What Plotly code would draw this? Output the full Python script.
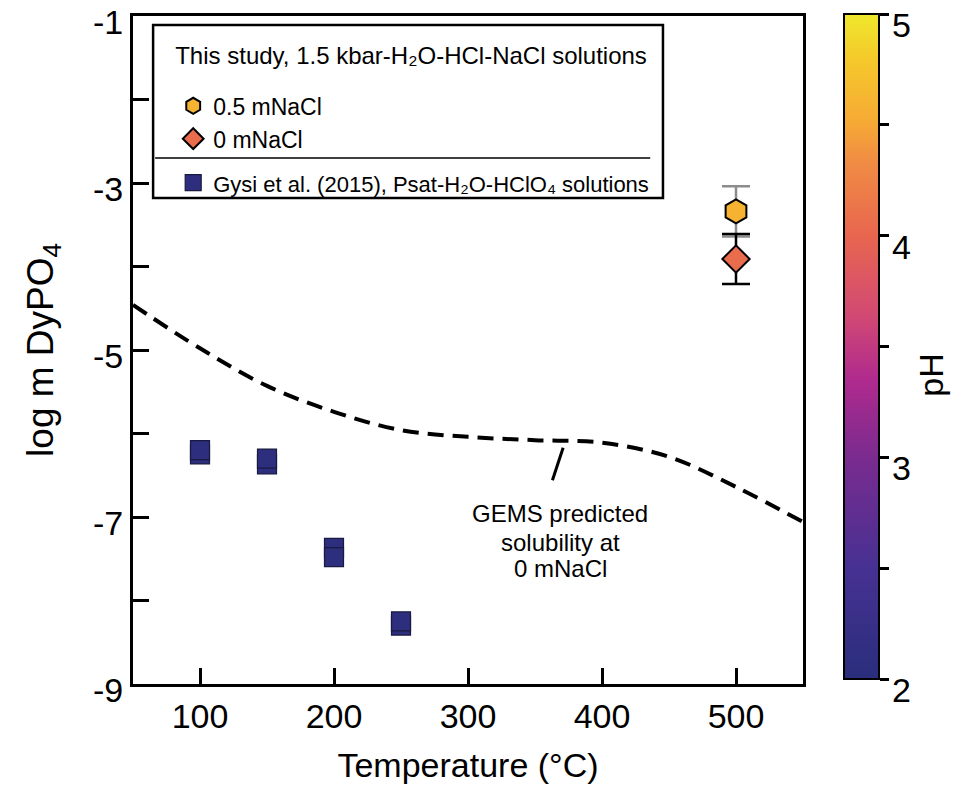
import plotly.graph_objects as go
from plotly.colors import sample_colorscale

# ---------------- data ----------------
# This study, 1.5 kbar H2O-HCl-NaCl
t_05nacl = [500]
logm_05nacl = [-3.34]
err_05nacl = [0.30]
ph_05nacl = [4.6]

t_0nacl = [500]
logm_0nacl = [-3.91]
err_0nacl = [0.30]
ph_0nacl = [4.05]

# Gysi et al. (2015), Psat H2O-HClO4 (replicates)
t_gysi = [100, 100, 150, 150, 200, 200, 250, 250]
logm_gysi = [-6.25, -6.20, -6.37, -6.30, -7.37, -7.48, -8.30, -8.25]
ph_gysi = [2.05, 2.05, 2.05, 2.05, 2.05, 2.05, 2.05, 2.05]

# GEMS predicted solubility at 0 mNaCl
t_gems = [50, 100, 150, 200, 250, 300, 350, 400, 450, 500, 550]
logm_gems = [-4.46, -4.98, -5.43, -5.74, -5.96, -6.04, -6.08, -6.11, -6.28, -6.64, -7.06]

x_ticks = [100, 200, 300, 400, 500]
y_ticks = [-9, -8, -7, -6, -5, -4, -3, -2, -1]
y_label_vals = [-9, -7, -5, -3, -1]
y_label_text = ["-9", "-7", "-5", "-3", "-1"]
cb_ticks = [2, 2.5, 3, 3.5, 4, 4.5, 5]
cb_label_vals = [2, 3, 4, 5]
cb_label_text = ["2", "3", "4", "5"]

PH_MIN, PH_MAX = 2, 5
ph_colorscale = [
    [0.0, "#2a2e7c"],
    [0.167, "#463192"],
    [0.333, "#7a2b8f"],
    [0.45, "#b02a8e"],
    [0.55, "#d24a72"],
    [0.667, "#e8664f"],
    [0.78, "#f08d43"],
    [0.833, "#f6a836"],
    [0.93, "#f5c82b"],
    [1.0, "#efe82c"],
]


def ph_colors(vals):
    return sample_colorscale(ph_colorscale, [(v - PH_MIN) / (PH_MAX - PH_MIN) for v in vals])


FONT = "Liberation Sans, Arial, sans-serif"

fig = go.Figure()

fig.add_trace(go.Scatter(
    x=t_gems, y=logm_gems, mode="lines", line_shape="spline",
    line=dict(color="black", width=4, dash="16px,9px"),
    showlegend=False, hoverinfo="skip",
))

fig.add_trace(go.Scatter(
    x=t_05nacl, y=logm_05nacl, mode="markers",
    name="<span style='font-size:23px'>0.5 mNaCl</span>",
    legendgroup="study",
    marker=dict(symbol="hexagon", size=24, color=ph_colors(ph_05nacl),
                line=dict(color="black", width=2)),
    error_y=dict(type="data", array=err_05nacl, color="#8c8c8c", thickness=2.5, width=14),
))

fig.add_trace(go.Scatter(
    x=t_0nacl, y=logm_0nacl, mode="markers",
    name="<span style='font-size:23px'>0 mNaCl</span>",
    legendgroup="study",
    marker=dict(symbol="diamond", size=21, color=ph_colors(ph_0nacl),
                line=dict(color="black", width=2)),
    error_y=dict(type="data", array=err_0nacl, color="black", thickness=2.5, width=14),
))

fig.add_trace(go.Scatter(
    x=t_gysi, y=logm_gysi, mode="markers",
    name="<span style='font-size:22px'>Gysi et al. (2015), Psat-H₂O-HClO₄ solutions</span>",
    legendgroup="gysi",
    marker=dict(symbol="square", size=19, color=ph_colors(ph_gysi),
                line=dict(color="#1a1a40", width=1.2)),
))

# pH colour scale (drives the colour bar only)
fig.add_trace(go.Scatter(
    x=t_gysi, y=logm_gysi, mode="markers", showlegend=False, hoverinfo="skip",
    marker=dict(size=1, opacity=0, color=ph_gysi, coloraxis="coloraxis"),
))

axis_common = dict(
    showline=True, linecolor="black", linewidth=2.5, mirror=True,
    ticks="inside", ticklen=16, tickwidth=3, tickcolor="black",
    showgrid=False, zeroline=False,
    tickfont=dict(family=FONT, size=34, color="black"),
)

fig.update_xaxes(
    range=[50, 550], tickvals=x_ticks, ticklabelstandoff=0,
    title=dict(text="Temperature (°C)", font=dict(family=FONT, size=34, color="black"), standoff=20),
    **axis_common,
)
fig.update_yaxes(
    range=[-9, -1], tickvals=y_ticks, showticklabels=False,
    title=dict(text="log m DyPO<sub>4</sub>", font=dict(family=FONT, size=37, color="black"), standoff=66),
    **axis_common,
)

# colour bar geometry (paper units)
CB_Y, CB_LEN = 0.505, 0.995
cb_bottom = CB_Y - CB_LEN / 2


def cb_paper_y(v):
    return cb_bottom + (v - PH_MIN) / (PH_MAX - PH_MIN) * CB_LEN


y_label_annots = [
    dict(x=0, y=v, xref="paper", yref="y", xanchor="right", yanchor="middle", showarrow=False,
         text=t, xshift=-8, yshift=-6, font=dict(family=FONT, size=34, color="black"))
    for v, t in zip(y_label_vals, y_label_text)
]
cb_label_annots = [
    dict(x=1.1298, y=cb_paper_y(v), xref="paper", yref="paper", xanchor="left", yanchor="middle",
         showarrow=False, text=t, yshift=-11, font=dict(family=FONT, size=34, color="black"))
    for v, t in zip(cb_label_vals, cb_label_text)
]

fig.update_layout(
    width=959, height=788,
    margin=dict(l=133, r=156, t=16, b=104, autoexpand=False),
    paper_bgcolor="white", plot_bgcolor="white",
    font=dict(family=FONT, color="black"),
    coloraxis=dict(
        cmin=PH_MIN, cmax=PH_MAX, colorscale=ph_colorscale,
        colorbar=dict(
            x=1.046, xanchor="left", xpad=10, y=CB_Y, yanchor="middle", ypad=0,
            len=CB_LEN, lenmode="fraction",
            thickness=35, outlinecolor="black", outlinewidth=2,
            tickvals=cb_ticks, showticklabels=False, ticks="outside", ticklen=9, tickwidth=2.5,
            tickcolor="black",
            title=dict(text=""),
        ),
    ),
    legend=dict(
        x=0.06, y=0.96, xanchor="left", yanchor="top",
        bgcolor="rgba(0,0,0,0)", borderwidth=0,
        font=dict(family=FONT, size=23, color="black"),
        traceorder="grouped", tracegroupgap=11,
        title=dict(text="<span style='font-size:24px'>This study, 1.5 kbar-H₂O-HCl-NaCl solutions</span><br> ",
                   font=dict(family=FONT, size=16, color="black")),
        itemsizing="trace",
    ),
    shapes=[
        dict(type="rect", xref="paper", yref="paper", x0=0.03, x1=0.791, y0=0.7275, y1=0.9865,
             line=dict(color="black", width=2.5), fillcolor="rgba(0,0,0,0)"),
        dict(type="line", xref="paper", yref="paper", x0=0.033, x1=0.772, y0=0.7874, y1=0.7874,
             line=dict(color="black", width=1.5)),
        dict(type="line", xref="x", yref="y", x0=371, y0=-6.17, x1=363, y1=-6.56,
             line=dict(color="black", width=3)),
    ],
    annotations=[
        dict(x=369, y=yv, xref="x", yref="y", showarrow=False, text=txt,
             font=dict(family=FONT, size=24, color="black"))
        for txt, yv in [("GEMS predicted", -6.96), ("solubility at", -7.30), ("0 mNaCl", -7.62)]
    ] + y_label_annots + cb_label_annots + [
        dict(x=1.222, y=0.4626, xref="paper", yref="paper", showarrow=False, text="pH",
             textangle=-90, font=dict(family=FONT, size=34, color="black")),
    ],
)

fig.write_html("out.html", config={"displayModeBar": False},
               post_script="document.body.style.margin='0px';")
